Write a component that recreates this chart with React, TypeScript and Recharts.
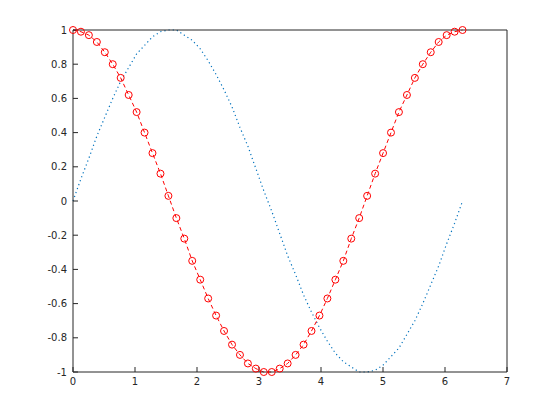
import { LineChart, Line, XAxis, YAxis } from 'recharts';

// sample points, 0 .. 2*pi
const xs = [
  0, 0.128, 0.256, 0.385, 0.513, 0.641, 0.769, 0.898, 1.026, 1.154,
  1.282, 1.411, 1.539, 1.667, 1.795, 1.923, 2.052, 2.18, 2.308, 2.436,
  2.565, 2.693, 2.821, 2.949, 3.077, 3.206, 3.334, 3.462, 3.59, 3.719,
  3.847, 3.975, 4.103, 4.232, 4.36, 4.488, 4.616, 4.744, 4.873, 5.001,
  5.129, 5.257, 5.386, 5.514, 5.642, 5.77, 5.898, 6.027, 6.155, 6.283,
];

const sinVals = [
  0, 0.13, 0.25, 0.38, 0.49, 0.6, 0.7, 0.78, 0.86, 0.91,
  0.96, 0.99, 1.0, 1.0, 0.97, 0.94, 0.89, 0.82, 0.74, 0.65,
  0.55, 0.43, 0.32, 0.19, 0.06, -0.06, -0.19, -0.32, -0.43, -0.55,
  -0.65, -0.74, -0.82, -0.89, -0.94, -0.97, -1.0, -1.0, -0.99, -0.96,
  -0.91, -0.86, -0.78, -0.7, -0.6, -0.49, -0.38, -0.25, -0.13, 0,
];

const cosVals = [
  1.0, 0.99, 0.97, 0.93, 0.87, 0.8, 0.72, 0.62, 0.52, 0.4,
  0.28, 0.16, 0.03, -0.1, -0.22, -0.35, -0.46, -0.57, -0.67, -0.76,
  -0.84, -0.9, -0.95, -0.98, -1.0, -1.0, -0.98, -0.95, -0.9, -0.84,
  -0.76, -0.67, -0.57, -0.46, -0.35, -0.22, -0.1, 0.03, 0.16, 0.28,
  0.4, 0.52, 0.62, 0.72, 0.8, 0.87, 0.93, 0.97, 0.99, 1.0,
];

const xTicks = [0, 1, 2, 3, 4, 5, 6, 7];
const yTicks = [-1, -0.8, -0.6, -0.4, -0.2, 0, 0.2, 0.4, 0.6, 0.8, 1];

const data = xs.map((x, i) => ({ x, s: sinVals[i], c: cosVals[i] }));

const axisColor = '#262626';
const tickStyle = { fontSize: 10, fill: axisColor, fontFamily: 'DejaVu Sans' };

export default function App() {
  return (
    <div style={{ position: 'absolute', left: 0, top: 0, width: 560, height: 420, background: '#fff' }}>
      <LineChart width={560} height={420} data={data} margin={{ top: 29, right: 52, bottom: 0, left: 0 }}>
        <XAxis
          xAxisId="b"
          dataKey="x"
          type="number"
          domain={[0, 7]}
          ticks={xTicks}
          height={48}
          tickSize={-5}
          tickMargin={11}
          tick={tickStyle}
          axisLine={{ stroke: axisColor }}
          tickLine={{ stroke: axisColor }}
          interval={0}
        />
        <XAxis
          xAxisId="t"
          orientation="top"
          dataKey="x"
          type="number"
          domain={[0, 7]}
          ticks={xTicks}
          height={1}
          tickSize={-5}
          tick={false}
          axisLine={{ stroke: axisColor }}
          tickLine={{ stroke: axisColor }}
          interval={0}
        />
        <YAxis
          yAxisId="l"
          type="number"
          domain={[-1, 1]}
          ticks={yTicks}
          width={73}
          tickSize={-5}
          tickMargin={11}
          tick={tickStyle}
          axisLine={{ stroke: axisColor }}
          tickLine={{ stroke: axisColor }}
          interval={0}
        />
        <YAxis
          yAxisId="r"
          orientation="right"
          type="number"
          domain={[-1, 1]}
          ticks={yTicks}
          width={1}
          tickSize={-5}
          tick={false}
          axisLine={{ stroke: axisColor }}
          tickLine={{ stroke: axisColor }}
          interval={0}
        />
        <Line
          xAxisId="b"
          yAxisId="l"
          type="linear"
          dataKey="s"
          stroke="#0072bd"
          strokeWidth={1.2}
          strokeDasharray="1.2 3"
          dot={false}
          isAnimationActive={false}
        />
        <Line
          xAxisId="b"
          yAxisId="l"
          type="linear"
          dataKey="c"
          stroke="#ff0000"
          strokeWidth={1}
          strokeDasharray="4 3"
          dot={{ r: 3.5, stroke: '#ff0000', fill: 'none', strokeWidth: 1, strokeDasharray: 'none' }}
          isAnimationActive={false}
        />
      </LineChart>
    </div>
  );
}
